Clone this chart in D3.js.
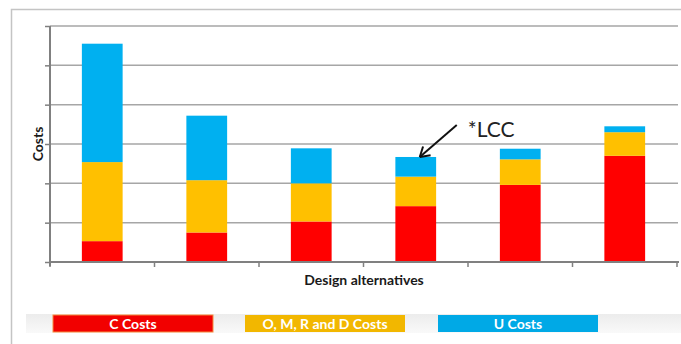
<!DOCTYPE html>
<html>
<head>
<meta charset="utf-8">
<script src="https://cdn.jsdelivr.net/npm/d3@7"></script>
<style>
  body { margin: 0; background: #fff; }
  svg { display: block; font-family: Lato, "Open Sans", sans-serif; }
</style>
</head>
<body>
<div id="chart"></div>
<script>
// values (arbitrary cost units, no y labels on the original)
var alternatives = ["A1", "A2", "A3", "A4", "A5", "A6"];
var cCosts    = [0.53, 0.75, 1.03, 1.42, 1.96, 2.70];
var omrdCosts = [2.01, 1.33, 0.97, 0.75, 0.65, 0.60];
var uCosts    = [3.01, 1.64, 0.89, 0.50, 0.27, 0.15];
var yTicks = [0, 1, 2, 3, 4, 5, 6];
var seriesNames = ["C Costs", "O, M, R and D Costs", "U Costs"];
var seriesKeys = ["c", "omrd", "u"];
var lccIndex = 3;

var width = 681, height = 344;
var svg = d3.select("#chart").append("svg")
    .attr("width", width)
    .attr("height", height);

// outer frame (only top and left edges show)
svg.append("path")
    .attr("d", "M11.5," + height + "V9.5H" + width)
    .attr("fill", "none")
    .attr("stroke", "#c4c4c4")
    .attr("stroke-width", 1.5);

var x = d3.scaleBand()
    .domain(alternatives)
    .range([50, 677])
    .paddingInner(0.61)
    .paddingOuter(0.305);

var y = d3.scaleLinear()
    .domain([0, 6])
    .range([262, 26]);

var color = d3.scaleOrdinal()
    .domain(seriesKeys)
    .range(["#ff0000", "#ffc000", "#00b0f0"]);

// gridlines
svg.append("g")
    .selectAll("line")
    .data(yTicks.slice(1))
    .enter()
    .append("line")
    .attr("x1", 50).attr("x2", 678)
    .attr("y1", function(d) { return y(d); })
    .attr("y2", function(d) { return y(d); })
    .attr("stroke", "#a6a6a6")
    .attr("stroke-width", 1.5);

var table = alternatives.map(function(a, i) {
    return { alt: a, c: cCosts[i], omrd: omrdCosts[i], u: uCosts[i] };
});
var stacked = d3.stack().keys(seriesKeys)(table);

svg.append("g")
    .selectAll("g")
    .data(stacked)
    .enter()
    .append("g")
    .attr("fill", function(d) { return color(d.key); })
    .selectAll("rect")
    .data(function(d) { return d; })
    .enter()
    .append("rect")
    .attr("x", function(d) { return x(d.data.alt); })
    .attr("width", x.bandwidth())
    .attr("y", function(d) { return y(d[1]); })
    .attr("height", function(d) { return y(d[0]) - y(d[1]); });

// y axis
var yAxis = svg.append("g")
    .attr("transform", "translate(50,0)")
    .call(d3.axisLeft(y).tickValues(yTicks).tickSize(5).tickFormat(""));
yAxis.select(".domain").attr("stroke", "#808080").attr("stroke-width", 2).attr("d", "M0," + y(6) + "V" + (y(0) + 4));
yAxis.selectAll(".tick line").attr("stroke", "#808080").attr("stroke-width", 1.5);

// x axis, ticks between categories
var step = x.step();
var x0 = x(alternatives[0]) - step * x.paddingInner() / 2;
var bounds = d3.range(alternatives.length + 1).map(function(i) { return x0 + i * step; });
var xAxis = svg.append("g");
xAxis.append("line")
    .attr("x1", 50).attr("x2", 679)
    .attr("y1", y(0)).attr("y2", y(0))
    .attr("stroke", "#808080").attr("stroke-width", 2);
xAxis.selectAll(".xt")
    .data(bounds)
    .enter()
    .append("line")
    .attr("class", "xt")
    .attr("x1", function(d) { return d; }).attr("x2", function(d) { return d; })
    .attr("y1", y(0)).attr("y2", y(0) + 5)
    .attr("stroke", "#808080").attr("stroke-width", 1.5);

// axis titles
svg.append("text")
    .attr("x", 364).attr("y", 285)
    .attr("text-anchor", "middle")
    .attr("font-size", 14)
    .attr("font-weight", "bold")
    .attr("fill", "#1a1a1a")
    .text("Design alternatives");

svg.append("text")
    .attr("transform", "translate(43,144) rotate(-90)")
    .attr("text-anchor", "middle")
    .attr("font-size", 14)
    .attr("font-weight", "bold")
    .attr("fill", "#1a1a1a")
    .text("Costs");

// LCC annotation
var lx = x(alternatives[lccIndex]) + x.bandwidth() / 2;
var ly = y(cCosts[lccIndex] + omrdCosts[lccIndex] + uCosts[lccIndex]);
var hx = lx + 4, hy = ly;
var tx = lx + 41, ty = ly - 32;
var ang = Math.atan2(hy - ty, hx - tx);
svg.append("line")
    .attr("x1", tx).attr("y1", ty).attr("x2", hx).attr("y2", hy)
    .attr("stroke", "#111").attr("stroke-width", 2);
[-0.55, 0.55].forEach(function(off) {
    svg.append("line")
        .attr("x1", hx).attr("y1", hy)
        .attr("x2", hx - 11 * Math.cos(ang + off))
        .attr("y2", hy - 11 * Math.sin(ang + off))
        .attr("stroke", "#111").attr("stroke-width", 2);
});
svg.append("text")
    .attr("x", lx + 52).attr("y", ly - 20)
    .attr("font-size", 21)
    .attr("fill", "#222")
    .text("*LCC");

// legend band
var defs = svg.append("defs");
var grad = defs.append("linearGradient").attr("id", "band").attr("x1", 0).attr("x2", 0).attr("y1", 0).attr("y2", 1);
grad.append("stop").attr("offset", "0%").attr("stop-color", "#ececec");
grad.append("stop").attr("offset", "100%").attr("stop-color", "#f9f9f9");
svg.append("rect")
    .attr("x", 26).attr("y", 314).attr("width", 655).attr("height", 19)
    .attr("fill", "url(#band)");

var legendX = [53, 245, 438];
var legendFill = ["#f20000", "#f2b700", "#00a9e6"];
var legend = svg.append("g")
    .selectAll("g")
    .data(seriesNames)
    .enter()
    .append("g")
    .attr("transform", function(d, i) { return "translate(" + legendX[i] + ",315)"; });
legend.append("rect")
    .attr("width", 160).attr("height", 17)
    .attr("fill", function(d, i) { return legendFill[i]; })
    .attr("stroke", function(d, i) { return i == 0 ? "#f58a3c" : "none"; });
legend.append("text")
    .attr("x", 80).attr("y", 13.5)
    .attr("text-anchor", "middle")
    .attr("font-size", 14)
    .attr("font-weight", "bold")
    .attr("fill", "#fff")
    .text(function(d) { return d; });
</script>
</body>
</html>
